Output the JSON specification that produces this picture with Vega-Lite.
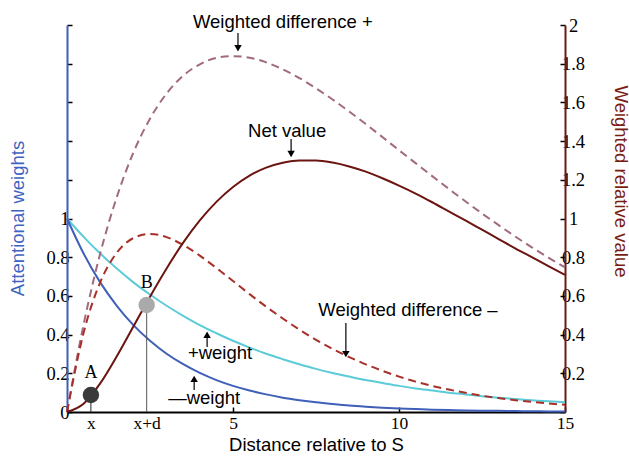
{
  "$schema": "https://vega.github.io/schema/vega-lite/v6.json",
  "autosize": "none",
  "width": 498,
  "height": 387,
  "padding": {"left": 67, "top": 25, "right": 64, "bottom": 44},
  "background": "white",
  "config": {"view": {"stroke": null}},
  "datasets": {
    "curves": [
      {"x": 0, "wminus": 1, "wplus": 1, "dplus": 0, "dminus": 0, "net": 0},
      {"x": 0.5, "wminus": 0.819, "wplus": 0.905, "dplus": 0.452, "dminus": 0.409, "net": 0.043},
      {"x": 1, "wminus": 0.670, "wplus": 0.819, "dplus": 0.819, "dminus": 0.670, "net": 0.148},
      {"x": 1.5, "wminus": 0.549, "wplus": 0.741, "dplus": 1.111, "dminus": 0.823, "net": 0.288},
      {"x": 2, "wminus": 0.449, "wplus": 0.670, "dplus": 1.341, "dminus": 0.899, "net": 0.442},
      {"x": 2.5, "wminus": 0.368, "wplus": 0.607, "dplus": 1.516, "dminus": 0.920, "net": 0.596},
      {"x": 3, "wminus": 0.301, "wplus": 0.549, "dplus": 1.646, "dminus": 0.904, "net": 0.742},
      {"x": 3.5, "wminus": 0.247, "wplus": 0.497, "dplus": 1.738, "dminus": 0.863, "net": 0.875},
      {"x": 4, "wminus": 0.202, "wplus": 0.449, "dplus": 1.797, "dminus": 0.808, "net": 0.990},
      {"x": 4.5, "wminus": 0.165, "wplus": 0.407, "dplus": 1.830, "dminus": 0.744, "net": 1.086},
      {"x": 5, "wminus": 0.135, "wplus": 0.368, "dplus": 1.839, "dminus": 0.677, "net": 1.163},
      {"x": 5.5, "wminus": 0.111, "wplus": 0.333, "dplus": 1.831, "dminus": 0.609, "net": 1.222},
      {"x": 6, "wminus": 0.091, "wplus": 0.301, "dplus": 1.807, "dminus": 0.544, "net": 1.263},
      {"x": 6.5, "wminus": 0.074, "wplus": 0.273, "dplus": 1.771, "dminus": 0.483, "net": 1.288},
      {"x": 7, "wminus": 0.061, "wplus": 0.247, "dplus": 1.726, "dminus": 0.426, "net": 1.300},
      {"x": 7.5, "wminus": 0.050, "wplus": 0.223, "dplus": 1.673, "dminus": 0.373, "net": 1.300},
      {"x": 8, "wminus": 0.041, "wplus": 0.202, "dplus": 1.615, "dminus": 0.326, "net": 1.289},
      {"x": 8.5, "wminus": 0.033, "wplus": 0.183, "dplus": 1.553, "dminus": 0.284, "net": 1.269},
      {"x": 9, "wminus": 0.027, "wplus": 0.165, "dplus": 1.488, "dminus": 0.246, "net": 1.242},
      {"x": 9.5, "wminus": 0.022, "wplus": 0.150, "dplus": 1.421, "dminus": 0.213, "net": 1.208},
      {"x": 10, "wminus": 0.018, "wplus": 0.135, "dplus": 1.353, "dminus": 0.183, "net": 1.170},
      {"x": 10.5, "wminus": 0.015, "wplus": 0.122, "dplus": 1.286, "dminus": 0.157, "net": 1.129},
      {"x": 11, "wminus": 0.012, "wplus": 0.111, "dplus": 1.219, "dminus": 0.135, "net": 1.084},
      {"x": 11.5, "wminus": 0.010, "wplus": 0.100, "dplus": 1.153, "dminus": 0.116, "net": 1.037},
      {"x": 12, "wminus": 0.008, "wplus": 0.091, "dplus": 1.089, "dminus": 0.099, "net": 0.990},
      {"x": 12.5, "wminus": 0.007, "wplus": 0.082, "dplus": 1.026, "dminus": 0.084, "net": 0.942},
      {"x": 13, "wminus": 0.006, "wplus": 0.074, "dplus": 0.966, "dminus": 0.072, "net": 0.894},
      {"x": 13.5, "wminus": 0.005, "wplus": 0.067, "dplus": 0.907, "dminus": 0.061, "net": 0.846},
      {"x": 14, "wminus": 0.004, "wplus": 0.061, "dplus": 0.851, "dminus": 0.052, "net": 0.800},
      {"x": 14.5, "wminus": 0.003, "wplus": 0.055, "dplus": 0.798, "dminus": 0.044, "net": 0.754},
      {"x": 15, "wminus": 0.002, "wplus": 0.050, "dplus": 0.747, "dminus": 0.037, "net": 0.709}
    ],
    "points": [
      {"name": "A", "x": 0.72, "y": 0.088, "ly": 0.2},
      {"name": "B", "x": 2.4, "y": 0.553, "ly": 0.667}
    ],
    "notes": [
      {"label": "Weighted difference +", "x": 6.5, "y": 2.015},
      {"label": "Net value", "x": 6.63, "y": 1.452},
      {"label": "Weighted difference –", "x": 10.27, "y": 0.527},
      {"label": "+weight", "x": 4.61, "y": 0.305},
      {"label": "—weight", "x": 4.13, "y": 0.072}
    ],
    "arrows": [
      {"x": 5.15, "y1": 1.959, "y2": 1.86, "ty": 1.88, "dir": "down"},
      {"x": 6.75, "y1": 1.411, "y2": 1.313, "ty": 1.333, "dir": "down"},
      {"x": 8.4, "y1": 0.46, "y2": 0.279, "ty": 0.299, "dir": "down"},
      {"x": 4.22, "y1": 0.336, "y2": 0.419, "ty": 0.399, "dir": "up"},
      {"x": 3.83, "y1": 0.114, "y2": 0.191, "ty": 0.171, "dir": "up"}
    ]
  },
  "layer": [
    {
      "data": {"name": "curves"},
      "mark": {"type": "line", "opacity": 0},
      "encoding": {
        "x": {"field": "x", "type": "quantitative", "scale": {"domain": [0, 15], "nice": false},
          "axis": {
            "values": [0.72, 2.4, 5, 10, 15],
            "labelExpr": "datum.value < 1 ? 'x' : datum.value < 3 ? 'x+d' : datum.label",
            "title": "Distance relative to S",
            "titleFont": "Liberation Sans", "titleFontSize": 18.5, "titleFontWeight": "normal", "titleColor": "black", "titlePadding": 4,
            "labelFont": "Liberation Serif", "labelFontSize": 17.5, "labelColor": "black", "labelPadding": 7,
            "labelOverlap": false, "labelFlush": false,
            "domainColor": "black", "domainWidth": 2,
            "tickSize": -5, "tickWidth": 1.5,
            "tickColor": {"condition": {"test": "datum.value < 3", "value": "transparent"}, "value": "black"},
            "grid": false
          }},
        "y": {"field": "wplus", "type": "quantitative", "scale": {"domain": [0, 2], "nice": false},
          "axis": {
            "orient": "left",
            "values": [0, 0.2, 0.4, 0.6, 0.8, 1, 1.2, 1.4, 1.6, 1.8, 2],
            "format": "~g",
            "labelExpr": "datum.value <= 1 ? datum.label : ''",
            "labelOverlap": false, "labelFlush": false,
            "title": "Attentional weights",
            "titleFont": "Liberation Sans", "titleFontSize": 18.5, "titleFontWeight": "normal", "titleColor": "#3f63c0",
            "titleX": -50, "titleY": 193, "titleAlign": "center", "titleBaseline": "middle", "titleAngle": 270,
            "labelFont": "Liberation Serif", "labelFontSize": 18.5, "labelColor": "black", "labelPadding": 3,
            "domainColor": "#3f5fb8", "domainWidth": 2,
            "tickSize": -5, "tickWidth": 1.5, "tickColor": "black",
            "grid": false
          }}
      }
    },
    {
      "data": {"name": "curves"},
      "mark": {"type": "line", "opacity": 0},
      "encoding": {
        "x": {"field": "x", "type": "quantitative"},
        "y": {"field": "net", "type": "quantitative", "scale": {"domain": [0, 2], "nice": false},
          "axis": {
            "orient": "right",
            "values": [0, 0.2, 0.4, 0.6, 0.8, 1, 1.2, 1.4, 1.6, 1.8, 2],
            "format": "~g",
            "labelExpr": "datum.value > 0 ? datum.label : ''",
            "labelOverlap": false, "labelFlush": false,
            "title": "Weighted relative value",
            "titleFont": "Liberation Sans", "titleFontSize": 18.5, "titleFontWeight": "normal", "titleColor": "#7a1c14",
            "titleX": 55, "titleY": 156, "titleAlign": "center", "titleBaseline": "middle", "titleAngle": 90,
            "labelFont": "Liberation Serif", "labelFontSize": 18.5, "labelColor": "black", "labelPadding": 13, "labelAlign": "center",
            "domainColor": "#6b1a12", "domainWidth": 2,
            "tickSize": -5, "tickWidth": 1.5, "tickColor": "black",
            "grid": false
          }}
      }
    },
    {
      "encoding": {
        "x": {"type": "quantitative"},
        "y": {"type": "quantitative", "scale": {"domain": [0, 2], "nice": false}, "axis": null}
      },
      "layer": [
        {
          "data": {"name": "curves"},
          "mark": {"type": "line", "color": "#5ccbd8", "strokeWidth": 2, "interpolate": "monotone"},
          "encoding": {"x": {"field": "x"}, "y": {"field": "wplus"}}
        },
        {
          "data": {"name": "curves"},
          "mark": {"type": "line", "color": "#3f5fb8", "strokeWidth": 2, "interpolate": "monotone"},
          "encoding": {"x": {"field": "x"}, "y": {"field": "wminus"}}
        },
        {
          "data": {"name": "curves"},
          "mark": {"type": "line", "color": "#a06a80", "strokeWidth": 2, "strokeDash": [8, 5], "interpolate": "monotone"},
          "encoding": {"x": {"field": "x"}, "y": {"field": "dplus"}}
        },
        {
          "data": {"name": "curves"},
          "mark": {"type": "line", "color": "#a8302a", "strokeWidth": 2, "strokeDash": [8, 5], "interpolate": "monotone"},
          "encoding": {"x": {"field": "x"}, "y": {"field": "dminus"}}
        },
        {
          "data": {"name": "curves"},
          "mark": {"type": "line", "color": "#6b1410", "strokeWidth": 2, "interpolate": "monotone"},
          "encoding": {"x": {"field": "x"}, "y": {"field": "net"}}
        },
        {
          "data": {"name": "points"},
          "mark": {"type": "rule", "strokeWidth": 1},
          "encoding": {
            "x": {"field": "x"},
            "y": {"field": "y"},
            "y2": {"datum": 0},
            "stroke": {"field": "name", "type": "nominal", "scale": {"domain": ["A", "B"], "range": ["#222222", "#555555"]}, "legend": null}
          }
        },
        {
          "data": {"name": "points"},
          "mark": {"type": "point", "filled": true, "size": 270, "opacity": 1},
          "encoding": {
            "x": {"field": "x"},
            "y": {"field": "y"},
            "fill": {"field": "name", "type": "nominal", "scale": {"domain": ["A", "B"], "range": ["#3a3a3a", "#aaaaaa"]}, "legend": null}
          }
        },
        {
          "data": {"name": "points"},
          "mark": {"type": "text", "font": "Liberation Serif", "fontSize": 18, "color": "black", "align": "center", "baseline": "middle"},
          "encoding": {
            "x": {"field": "x"},
            "y": {"field": "ly"},
            "text": {"field": "name"}
          }
        },
        {
          "data": {"name": "arrows"},
          "mark": {"type": "rule", "strokeWidth": 1.2, "color": "black"},
          "encoding": {
            "x": {"field": "x"},
            "y": {"field": "y1"},
            "y2": {"field": "ty"}
          }
        },
        {
          "data": {"name": "arrows"},
          "mark": {"type": "point", "filled": true, "size": 55, "color": "black", "opacity": 1},
          "encoding": {
            "x": {"field": "x"},
            "y": {"field": "ty"},
            "shape": {"field": "dir", "type": "nominal", "scale": {"domain": ["down", "up"], "range": ["triangle-down", "triangle-up"]}, "legend": null}
          }
        },
        {
          "data": {"name": "notes"},
          "mark": {"type": "text", "font": "Liberation Sans", "fontSize": 18.5, "color": "black", "align": "center", "baseline": "middle"},
          "encoding": {
            "x": {"field": "x"},
            "y": {"field": "y"},
            "text": {"field": "label"}
          }
        }
      ]
    }
  ],
  "resolve": {"scale": {"y": "independent"}}
}
